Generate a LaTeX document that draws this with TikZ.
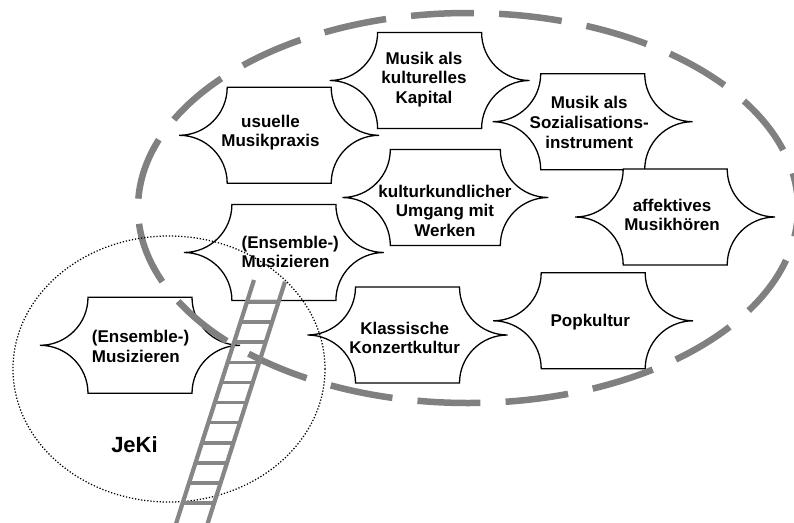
\documentclass[tikz,border=0pt]{standalone}
\usepackage{tikz}
\usepackage{fontspec}
\setmainfont{Liberation Sans}

\definecolor{rimgray}{RGB}{128,128,128}
\definecolor{laddergray}{RGB}{134,134,134}

% Plaque: a box whose left and right sides are two concave quarter arcs
% that meet in a point at mid height.
\makeatletter
\def\plaqueside{48pt}
\pgfdeclareshape{plaque}{%
  \inheritsavedanchors[from=rectangle]%
  \inheritanchorborder[from=rectangle]%
  \inheritanchor[from=rectangle]{center}%
  \inheritanchor[from=rectangle]{north}%
  \inheritanchor[from=rectangle]{south}%
  \inheritanchor[from=rectangle]{west}%
  \inheritanchor[from=rectangle]{east}%
  \anchor{text}{\pgfpointorigin}%
  \backgroundpath{%
    \southwest
    \edef\plq@xa{\the\pgf@x}\edef\plq@ya{\the\pgf@y}%
    \northeast
    \edef\plq@xb{\the\pgf@x}\edef\plq@yb{\the\pgf@y}%
    \pgf@yc=\plq@yb\relax
    \advance\pgf@yc by -\plq@ya\relax
    \pgf@yc=.5\pgf@yc
    \edef\plq@ry{\the\pgf@yc}%
    \pgfpathmoveto{\pgfqpoint{\plq@xa}{\plq@yb}}%
    \pgfpathlineto{\pgfqpoint{\plq@xb}{\plq@yb}}%
    \pgfpatharc{180}{270}{\plaqueside and \plq@ry}%
    \pgfpatharc{90}{180}{\plaqueside and \plq@ry}%
    \pgfpathlineto{\pgfqpoint{\plq@xa}{\plq@ya}}%
    \pgfpatharc{0}{90}{\plaqueside and \plq@ry}%
    \pgfpatharc{270}{360}{\plaqueside and \plq@ry}%
    \pgfpathclose
  }%
}
\makeatother

\begin{document}
\begin{tikzpicture}[x=1pt,y=-1pt,
  plaque/.style={shape=plaque, draw=black, fill=white, line width=1.3pt,
    minimum width=104pt, minimum height=96pt, inner sep=0pt, outer sep=0pt},
  lbl/.style={font=\bfseries\fontsize{17}{19.6}\selectfont, align=center,
    inner sep=0pt, anchor=north},
  lbll/.style={lbl, align=left, anchor=north west},
  rim/.style={draw=rimgray, line width=6.5pt,
    dash pattern=on 63pt off 25.2pt, dash phase=27.7pt},
  dotring/.style={draw=black, line width=1.25pt, dash pattern=on 1.25pt off 1.85pt},
  rail/.style={draw=laddergray, line width=4.2pt},
  rung/.style={draw=laddergray, line width=3.6pt},
]
\useasboundingbox (0,0) rectangle (794,522);
\clip (0,0) rectangle (794,522);
\fill[white] (0,0) rectangle (794,522);

% the nine fields
\node[plaque] (kapital) at (429.6,80.5) {};
\node[plaque] (usuell) at (279.2,135.3) {};
\node[plaque] (sozial) at (592.7,121.7) {};
\node[plaque, minimum width=110pt] (werke) at (445.3,197.5) {};
\node[plaque] (affekt) at (675.2,217) {};
\node[plaque] (ensemble) at (283.9,252.5) {};
\node[plaque] (klassik) at (407.5,335) {};
\node[plaque] (pop) at (593.2,320.8) {};
\node[plaque] (jekiens) at (140,345.3) {};

% their labels
\node[lbl] (kapital-t) at (424,51.6) {Musik als\\kulturelles\\Kapital};
\node[lbl] (usuell-t) at (270.5,114.8) {usuelle\\Musikpraxis};
\node[lbl] (sozial-t) at (589.2,96.4) {Musik als\\Sozialisations-\\instrument};
\node[lbl] (werke-t) at (445,184.8) {kulturkundlicher\\Umgang mit\\Werken};
\node[lbl] (affekt-t) at (672,198.5) {affektives\\Musikhören};
\node[lbll] (ensemble-t) at (241.4,235.6) {(Ensemble-)\\Musizieren};
\node[lbl] (klassik-t) at (404.7,321.8) {Klassische\\Konzertkultur};
\node[lbl] (pop-t) at (590.3,314) {Popkultur};
\node[lbll] (jekiens-t) at (91.7,330.4) {(Ensemble-)\\Musizieren};
\node[font=\bfseries\fontsize{22}{26}\selectfont, inner sep=0pt, anchor=north]
  (jeki) at (134.5,436.7) {JeKi};

% the wide dashed field and the small dotted one
\draw[rim] (468,208) ellipse [x radius=330pt, y radius=195pt];
\draw[dotring] (169,369) ellipse [x radius=156pt, y radius=133pt];

% ladder
\coordinate (railL-top) at (254,280);
\coordinate (railL-bot) at (174,530);
\coordinate (railR-top) at (285,281.7);
\coordinate (railR-bot) at (205.5,530);
\draw[rail] (railL-top) -- (railL-bot);
\draw[rail] (railR-top) -- (railR-bot);
\foreach \k in {0,...,10}{
  \pgfmathsetmacro\yy{302+20.1*\k}
  \draw[rung] ({254-0.32*(\yy-280)},\yy) -- ({285-0.32*(\yy-281.7)},\yy);
}
\end{tikzpicture}
\end{document}
